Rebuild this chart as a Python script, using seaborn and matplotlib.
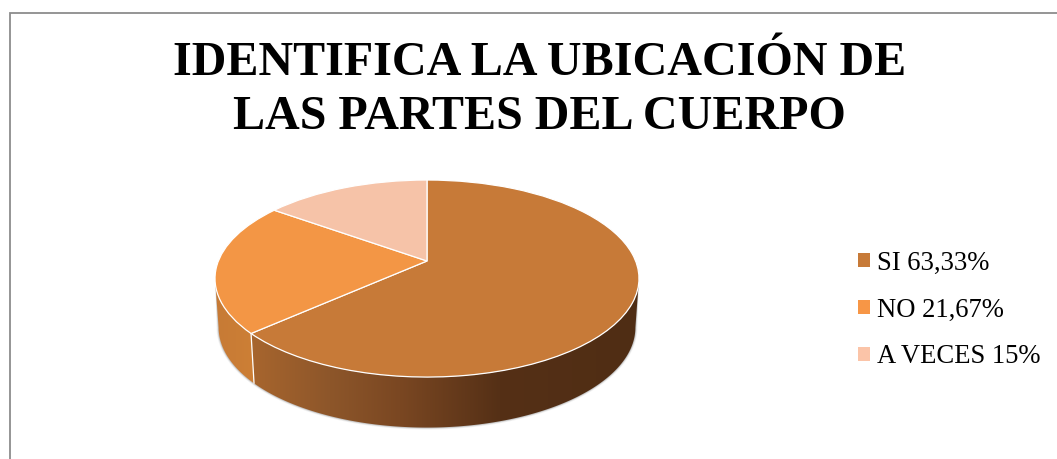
import numpy as np
import matplotlib
matplotlib.use("Agg")
import matplotlib.pyplot as plt
from matplotlib.colors import to_rgb
from matplotlib.patches import Patch, Polygon
from matplotlib.transforms import Transform
import seaborn as sns

categories = ["SI", "NO", "A VECES"]
values = [63.33, 21.67, 15.0]
legend_labels = ["SI 63,33%", "NO 21,67%", "A VECES 15%"]
title_text = "IDENTIFICA LA UBICACIÓN DE\nLAS PARTES DEL CUERPO"
top_colors = ["#C77A38", "#F39645", "#F6C3A8"]
legend_colors = ["#C77A38", "#F79646", "#FBC4A8"]

sns.set_theme(style="white")
plt.rcParams["font.family"] = ["Liberation Serif", "DejaVu Serif"]

# perspective of the unit pie onto the page (pixel coordinates)
CX, AY = 427.0, 261.0
C, B, A = 0.178, 95.4, 208.6
SIDE0, SIDE1 = 100.25, 259.75   # angles of the widest points of the pie


def project(u, v):
    d = 1 + C * v
    return CX + A * u / d, AY - B * v / d


class Perspective(Transform):
    input_dims = output_dims = 2
    is_separable = False
    has_inverse = False

    def transform_non_affine(self, pts):
        pts = np.asarray(pts, float)
        x, y = project(pts[:, 0], pts[:, 1])
        return np.column_stack([x, y])


def rim(u, v, grow=0.0):
    x, y = project(u, v)
    return CX + (x - CX) * (0.983 + grow / 208), 327 + (y - 278) * (100 / 98.5 + grow / 100)


def wall_polygon(a0, a1):
    t = np.radians(np.linspace(a0, a1, 200))
    u, v = np.sin(t), np.cos(t)
    xt, yt = project(u, v)
    xb, yb = rim(u, v)
    return np.column_stack([np.r_[xt, xb[::-1]], np.r_[yt, yb[::-1]]])


def gradient_wall(ax, anchors, a0, a1):
    xs, cols = zip(*anchors)
    rgb = np.array([to_rgb(c) for c in cols])
    grid = np.linspace(xs[0], xs[-1], 400)
    img = np.stack([np.interp(grid, xs, rgb[:, i]) for i in range(3)], axis=-1)[None, :, :]
    im = ax.imshow(img, extent=(xs[0], xs[-1], 460, 250), aspect="auto", zorder=2, interpolation="bilinear")
    poly = Polygon(wall_polygon(a0, a1), closed=True, transform=ax.transData, facecolor="none", edgecolor="none")
    ax.add_patch(poly)
    im.set_clip_path(poly)


fig = plt.figure(figsize=(10.57, 4.59), dpi=100)
ax = fig.add_axes([0, 0, 1, 1])
wedges, _ = ax.pie(values, colors=sns.color_palette(top_colors), startangle=90, counterclock=False,
                   wedgeprops=dict(edgecolor="white", linewidth=0.9))

persp = Perspective()
for w in wedges:
    w.set_transform(persp + ax.transData)
    w.set_zorder(5)

# side wall, split at the slice boundary
cum = np.cumsum(values) / np.sum(values) * 360
si_anchors = [(250, "#A8662E"), (330, "#8D562A"), (400, "#7A4722"), (500, "#553016"), (645, "#4F2D14")]
no_anchors = [(212, "#C67A35"), (260, "#CE8036")]

# soft shadow under the lower rim
t = np.radians(np.linspace(SIDE0, SIDE1, 300))
for grow, alpha in [(2.0, 0.10), (1.2, 0.18), (0.6, 0.25)]:
    xb, yb = rim(np.sin(t), np.cos(t), grow)
    xt, yt = project(np.sin(t), np.cos(t))
    ax.fill(np.r_[xt, xb[::-1]], np.r_[yt, yb[::-1]], color="#777777", alpha=alpha, lw=0, zorder=1)

gradient_wall(ax, si_anchors, SIDE0, cum[0])
gradient_wall(ax, no_anchors, cum[0], SIDE1)

# white seam on the wall
a = np.radians(cum[0])
xt, yt = project(np.sin(a), np.cos(a))
xb, yb = rim(np.sin(a), np.cos(a))
ax.plot([xt, xb], [yt, yb], color="white", lw=0.9, zorder=3)

# chart frame
ax.plot([9.5, 9.5, 1057], [459, 13, 13], color="#8C8C8C", lw=1.3, zorder=0, solid_joinstyle="miter")

ax.set_aspect("auto")
ax.set_xlim(0, 1057)
ax.set_ylim(459, 0)
ax.axis("off")

ax.text(539.5, 90, title_text, ha="center", va="center", fontsize=34.6, fontweight="bold",
        color="black", linespacing=1.27)

handles = [Patch(facecolor=c, edgecolor="none") for c in legend_colors]
ax.legend(handles, legend_labels, loc="center left", bbox_to_anchor=(858 / 1057, 1 - 310 / 459),
          frameon=False, fontsize=19.2, handlelength=0.45, handleheight=0.45, handletextpad=0.26,
          labelspacing=0.82, borderpad=0, borderaxespad=0, labelcolor="black")

fig.savefig("out.png", dpi=100)
